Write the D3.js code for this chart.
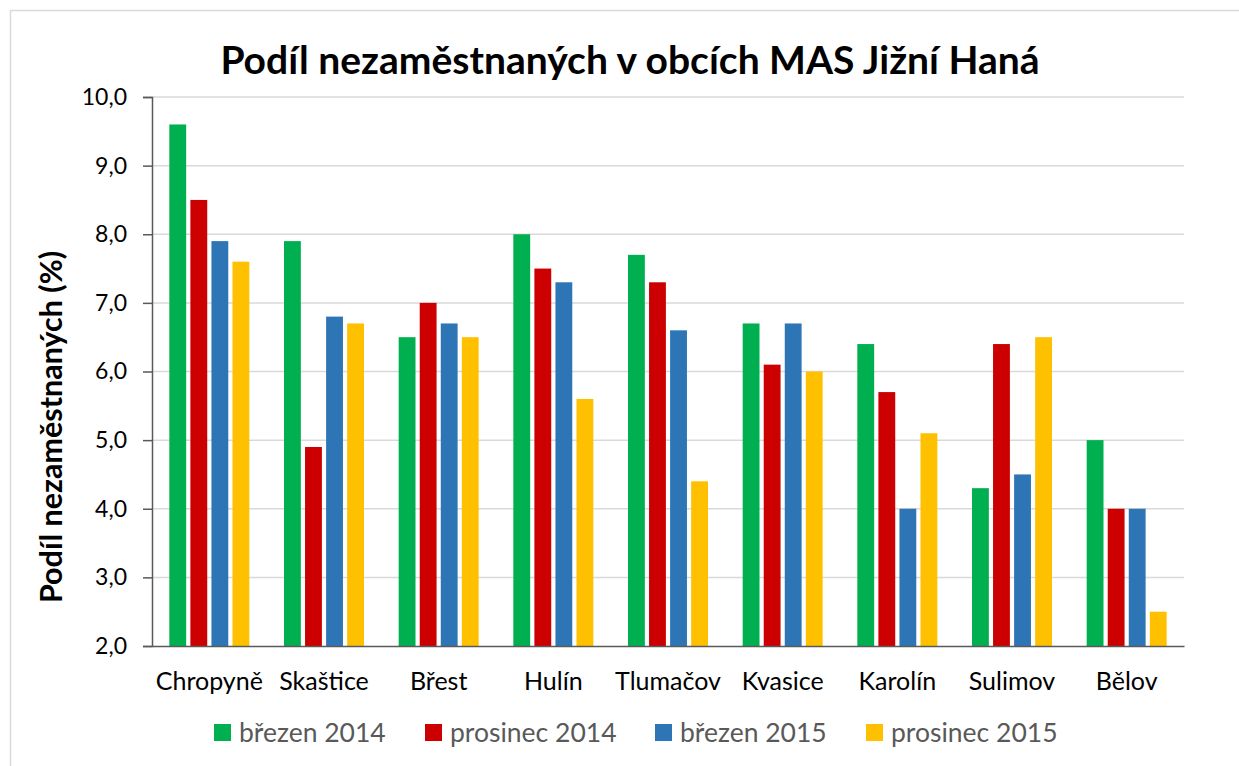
<!DOCTYPE html>
<html>
<head>
<meta charset="utf-8">
<script src="https://cdn.jsdelivr.net/npm/d3@7"></script>
<style>
  body { margin: 0; background: #fff; }
  text { font-family: Lato, "Open Sans", sans-serif; }
</style>
</head>
<body>
<svg id="chart" width="1239" height="766"></svg>
<script>
const categories = ['Chropyně', 'Skaštice', 'Břest', 'Hulín', 'Tlumačov', 'Kvasice', 'Karolín', 'Sulimov', 'Bělov'];
const seriesNames = ['březen 2014', 'prosinec 2014', 'březen 2015', 'prosinec 2015'];
const brezen2014 = [9.6, 7.9, 6.5, 8.0, 7.7, 6.7, 6.4, 4.3, 5.0];
const prosinec2014 = [8.5, 4.9, 7.0, 7.5, 7.3, 6.1, 5.7, 6.4, 4.0];
const brezen2015 = [7.9, 6.8, 6.7, 7.3, 6.6, 6.7, 4.0, 4.5, 4.0];
const prosinec2015 = [7.6, 6.7, 6.5, 5.6, 4.4, 6.0, 5.1, 6.5, 2.5];
const yTicks = [2, 3, 4, 5, 6, 7, 8, 9, 10];
const colors = ['#00b050', '#cc0000', '#2e75b6', '#ffc000'];

const seriesValues = [brezen2014, prosinec2014, brezen2015, prosinec2015];

const dims = {left: 152, right: 1184, top: 97, bottom: 646};
const svg = d3.select('#chart');

// outer chart border
svg.append('rect')
   .attr('x', 10.5).attr('y', 10.5)
   .attr('width', 1240).attr('height', 770)
   .attr('fill', 'none')
   .attr('stroke', '#d9d9d9')
   .attr('stroke-width', 1.5);

const x0 = d3.scaleBand().domain(categories).range([dims.left, dims.right]);
const x1 = d3.scaleBand().domain(seriesNames).range([-40, 40]).paddingInner(0.2);
const y = d3.scaleLinear().domain([2, 10]).range([dims.bottom, dims.top]);

// gridlines
svg.append('g')
   .selectAll('line')
   .data(yTicks.slice(1))
   .join('line')
   .attr('x1', dims.left).attr('x2', dims.right)
   .attr('y1', d => y(d)).attr('y2', d => y(d))
   .attr('stroke', '#d9d9d9')
   .attr('stroke-width', 1.5);

// title
svg.append('text')
   .attr('x', 630).attr('y', 74)
   .attr('text-anchor', 'middle')
   .attr('font-size', 39)
   .attr('font-weight', 'bold')
   .attr('fill', '#000')
   .text('Podíl nezaměstnaných v obcích MAS Jižní Haná');

// bars
categories.forEach((cat, ci) => {
  const g = svg.append('g').attr('transform', `translate(${x0(cat) + x0.bandwidth() / 2},0)`);
  g.selectAll('rect')
   .data(seriesNames.map((s, si) => ({s, v: seriesValues[si][ci], c: colors[si]})))
   .join('rect')
   .attr('x', d => x1(d.s))
   .attr('width', x1.bandwidth())
   .attr('y', d => y(d.v))
   .attr('height', d => y(2) - y(d.v))
   .attr('fill', d => d.c);
});

// y axis
const yAxis = d3.axisLeft(y)
                .tickValues(yTicks)
                .tickSize(9)
                .tickPadding(16)
                .tickFormat(d => d3.format('.1f')(d).replace('.', ','));
const yAxisGroup = svg.append('g')
                      .attr('transform', `translate(${dims.left},0)`)
                      .call(yAxis);
yAxisGroup.select('.domain').attr('stroke', '#595959').attr('stroke-width', 1.5);
yAxisGroup.selectAll('line').attr('stroke', '#595959').attr('stroke-width', 1.5);
yAxisGroup.selectAll('text')
          .attr('font-size', 23)
          .attr('fill', '#000')
          .attr('font-family', 'Lato, sans-serif');

// x axis
const xAxis = d3.axisBottom(x0).tickSize(0).tickPadding(26);
const xAxisGroup = svg.append('g')
                      .attr('transform', `translate(0,${dims.bottom})`)
                      .call(xAxis);
xAxisGroup.select('.domain').attr('stroke', '#595959').attr('stroke-width', 1.5);
xAxisGroup.selectAll('text')
          .attr('font-size', 25)
          .attr('fill', '#000')
          .attr('font-family', 'Lato, sans-serif');

// y axis title
svg.append('text')
   .attr('transform', `translate(62,427) rotate(-90)`)
   .attr('text-anchor', 'middle')
   .attr('font-size', 30.5)
   .attr('font-weight', 'bold')
   .text('Podíl nezaměstnaných (%)');

// legend
const legendX = [214, 425, 655, 866];
const legend = svg.append('g');
seriesNames.forEach((s, i) => {
  legend.append('rect')
        .attr('x', legendX[i]).attr('y', 724)
        .attr('width', 17).attr('height', 17)
        .attr('fill', colors[i]);
  legend.append('text')
        .attr('x', legendX[i] + 25).attr('y', 742)
        .attr('font-size', 26.5)
        .attr('fill', '#595959')
        .text(s);
});
</script>
</body>
</html>
